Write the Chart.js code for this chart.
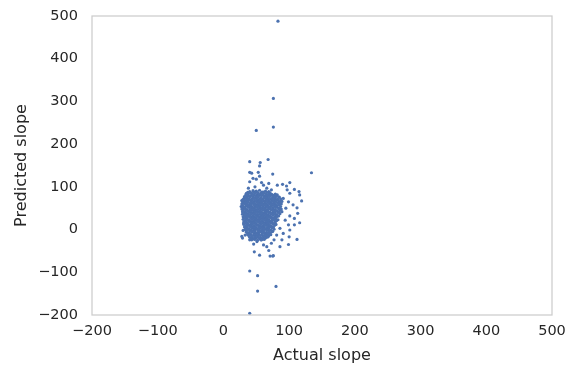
<!DOCTYPE html>
<html>
<head>
<meta charset="utf-8">
<script src="https://cdn.jsdelivr.net/npm/chart.js@4/dist/chart.umd.min.js"></script>
<style>
  html, body { margin: 0; padding: 0; background: #fff; }
  canvas { display: block; }
</style>
</head>
<body>
<canvas id="scatter" width="570" height="369"></canvas>
<script>
// ── Données (une ligne de actualSlope ↔ une ligne de predictedSlope) ──
const actualSlope = [
    40,45,50,55,59,64,69,
    37,42,47,52,57,61,66,71,
    35,39,44,48,52,57,61,65,70,74,79,
    34,38,43,47,51,55,60,64,68,73,77,82,
    32,36,41,45,49,53,58,62,66,71,75,80,85,
    32,36,40,45,49,53,57,62,66,70,75,79,84,
    30,34,38,43,47,51,55,60,64,68,73,77,82,87,
    31,35,40,44,48,52,57,61,65,70,74,78,83,87,
    29,33,37,42,46,50,54,58,63,67,71,76,80,85,89,
    30,34,38,43,47,51,55,59,64,68,72,77,81,86,
    28,32,36,40,45,49,53,57,61,66,70,74,79,83,88,
    29,34,38,42,47,51,55,59,63,68,72,76,81,85,
    27,31,35,40,44,48,52,56,60,65,69,73,78,82,87,
    29,33,38,42,46,50,55,59,63,67,71,76,80,85,
    28,32,36,41,45,49,53,58,62,66,70,75,79,84,88,
    30,34,39,43,47,51,56,60,64,68,73,77,82,86,
    29,33,37,41,46,50,54,58,63,67,71,76,80,85,
    31,35,39,44,48,52,56,61,65,69,74,78,83,
    29,34,38,42,47,51,55,59,64,68,72,77,81,86,
    32,36,40,45,49,53,58,62,66,71,75,80,84,
    30,34,38,43,47,51,56,60,64,69,73,78,82,
    32,36,41,45,50,54,58,63,67,71,76,80,
    30,35,39,43,48,52,56,61,65,69,74,78,83,
    33,37,41,46,50,54,59,63,67,72,76,81,
    31,35,39,44,48,52,57,61,65,70,74,79,
    33,37,42,46,50,55,59,63,68,72,77,
    31,36,40,44,49,53,57,62,66,70,75,80,
    34,38,42,47,51,55,60,64,68,73,78,
    32,36,41,45,49,54,58,62,67,71,76,
    34,39,43,47,52,56,60,65,69,74,
    33,37,42,46,50,55,59,63,68,72,77,
    35,40,44,48,53,57,61,66,70,75,
    35,39,43,48,52,56,61,65,69,74,
    37,41,46,50,54,59,63,67,71,
    37,41,46,50,54,59,63,67,72,
    39,43,48,52,56,61,65,69,
    40,44,48,53,57,61,66,
    42,46,50,55,59,64,
    43,48,52,57,62,
    // points isolés
    40,68,56,55,40,43,53,75,134,55,45,50,
    40,58,69,82,90,101,96,108,115,116,119,112,
    113,116,108,112,100,99,86,77,75,71,55,47,
    46,29,30,31,28,29,33,40,52,52,80,40,
    83,76,76,50,69,76,97,101,91,99,106,95,
    89,101,94,108,99,86,91,81,101,89,73,66,
    61,68,30,35,38,48,61,66,73,33,40,51,58,28,
];

const predictedSlope = [
    89,91,90,92,88,90,89,
    87,86,88,87,86,88,87,86,
    83,85,84,86,83,84,85,83,84,82,83,
    81,80,82,81,80,82,81,80,81,82,80,81,
    77,79,78,77,79,78,80,77,78,79,77,78,76,
    75,74,76,75,74,76,75,74,75,76,74,75,76,
    71,73,72,71,73,72,71,72,74,71,72,73,71,72,
    69,68,70,69,68,70,69,68,69,70,68,69,70,68,
    66,65,67,66,65,67,66,65,66,67,65,66,67,65,66,
    63,62,64,63,62,64,63,62,63,64,62,63,64,62,
    60,61,59,60,61,59,60,61,60,59,61,60,59,61,60,
    57,58,56,57,58,56,57,58,57,56,58,57,56,58,
    54,53,55,54,53,55,54,53,54,55,53,54,55,53,54,
    51,50,52,51,50,52,51,50,51,52,50,51,52,50,
    48,49,47,48,49,47,48,49,48,47,49,48,47,49,48,
    45,46,44,45,46,44,45,46,45,44,46,45,44,46,
    42,41,43,42,41,43,42,41,42,43,41,42,43,41,
    39,38,40,39,38,40,39,38,39,40,38,39,40,
    36,37,35,36,37,35,36,37,36,35,37,36,35,37,
    33,34,32,33,34,32,33,34,33,32,34,33,32,
    30,29,31,30,29,31,30,29,30,31,29,30,31,
    27,26,28,27,26,28,27,26,27,28,26,27,
    24,25,23,24,25,23,24,25,24,23,25,24,23,
    21,22,20,21,22,20,21,22,21,20,22,21,
    18,17,19,18,17,19,18,17,18,19,17,18,
    15,14,16,15,14,16,15,14,15,16,14,
    12,13,11,12,13,11,12,13,12,11,13,12,
    9,10,8,9,10,8,9,10,9,8,10,
    6,5,7,6,5,7,6,5,6,7,5,
    3,2,4,3,2,4,3,2,3,4,
    0,1,-1,0,1,-1,0,1,0,-1,1,
    -3,-2,-4,-3,-2,-4,-3,-2,-3,-4,
    -6,-7,-5,-6,-7,-5,-6,-7,-6,-5,
    -9,-10,-8,-9,-10,-8,-9,-10,-9,
    -12,-11,-13,-12,-11,-13,-12,-11,-12,
    -15,-14,-16,-15,-14,-16,-15,-14,
    -18,-19,-17,-18,-19,-17,-18,
    -21,-22,-20,-21,-22,-20,
    -24,-23,-25,-24,-23,
    // points isolés
    159,164,157,149,134,132,134,130,133,125,120,118,
    112,110,108,104,106,110,102,94,89,81,67,51,
    38,16,11,-23,-17,-35,-40,-24,-62,-62,-60,-52,
    -34,-20,-2,15,68,54,34,-97,-108,-144,-133,-196,
    488,307,240,232,-49,-61,93,85,73,65,58,50,
    42,32,22,26,11,3,-9,-13,-1,-24,-32,-40,
    -36,-17,69,85,97,100,104,97,93,-13,-24,-28,-24,-16,
];

const xTicks = [-200, -100, 0, 100, 200, 300, 400, 500];
const yTicks = [-200, -100, 0, 100, 200, 300, 400, 500];

const TEXTE  = '#262626';
const CADRE  = '#cccccc';
const POINTS = '#4c72b0';
const POLICE = '"DejaVu Sans", sans-serif';

const moins = v => String(v).replace('-', '\u2212');

// cadre gris sur les 4 côtés de la zone de tracé
const cadrePlugin = {
    id: 'cadre',
    afterDraw(chart) {
        const { ctx, chartArea: a } = chart;
        ctx.save();
        ctx.strokeStyle = CADRE;
        ctx.lineWidth = 1.25;
        ctx.strokeRect(a.left, a.top, a.right - a.left, a.bottom - a.top);
        ctx.restore();
    },
};

const points = actualSlope.map((x, i) => ({ x, y: predictedSlope[i] }));

new Chart(document.getElementById('scatter'), {
    type: 'scatter',
    data: {
        datasets: [{
            data: points,
            backgroundColor: POINTS,
            pointRadius: 1.6,
            pointBorderWidth: 0,
            pointHoverRadius: 1.6,
        }],
    },
    options: {
        responsive: false,
        animation: false,
        layout: { padding: { top: 16, right: 18, left: 0, bottom: 0 } },
        plugins: { legend: { display: false }, tooltip: { enabled: false } },
        scales: {
            x: {
                type: 'linear',
                min: -200, max: 500,
                afterBuildTicks: s => { s.ticks = xTicks.map(value => ({ value })); },
                afterFit: s => { s.height = 54; s.paddingLeft = 0; s.paddingRight = 0; },
                grid: { display: false, drawTicks: false },
                border: { display: false },
                ticks: { color: TEXTE, font: { family: POLICE, size: 14.5 }, padding: 8, callback: moins, maxRotation: 0 },
                title: { display: true, text: 'Actual slope', color: TEXTE, font: { family: POLICE, size: 16 }, padding: { top: 0, bottom: 4 } },
            },
            y: {
                type: 'linear',
                min: -200, max: 500,
                afterBuildTicks: s => { s.ticks = yTicks.map(value => ({ value })); },
                afterFit: s => { s.width = 92; s.paddingTop = 0; s.paddingBottom = 0; },
                grid: { display: false, drawTicks: false },
                border: { display: false },
                ticks: { color: TEXTE, font: { family: POLICE, size: 14.5 }, padding: 14, callback: moins },
                title: { display: true, text: 'Predicted slope', color: TEXTE, font: { family: POLICE, size: 16 }, padding: { top: 12, bottom: 0 } },
            },
        },
    },
    plugins: [cadrePlugin],
});
</script>
</body>
</html>
